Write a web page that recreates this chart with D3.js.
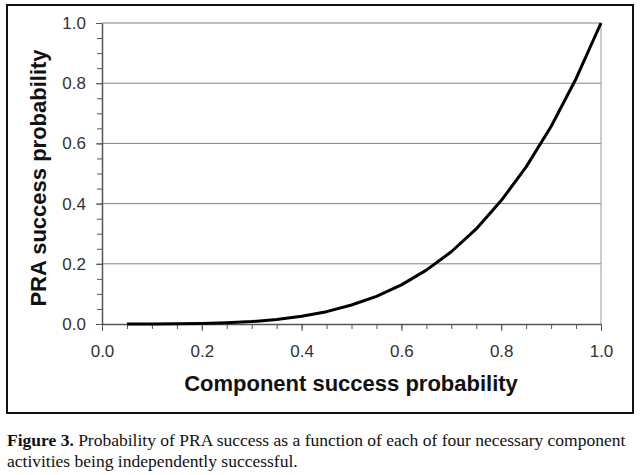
<!DOCTYPE html>
<html>
<head>
<meta charset="utf-8">
<script src="https://cdn.jsdelivr.net/npm/d3@7"></script>
<style>
  body { margin: 0; background: #fff; }
  .tick text { font-family: Arial, "Liberation Sans", sans-serif; font-size: 17px; fill: #333; }
</style>
</head>
<body>
<svg id="chart" width="640" height="475"></svg>
<script>
// component success probability (x) and PRA success probability (y)
const componentProb = [0.05, 0.10, 0.15, 0.20, 0.25, 0.30, 0.35, 0.40, 0.45, 0.50,
                       0.55, 0.60, 0.65, 0.70, 0.75, 0.80, 0.85, 0.90, 0.95, 1.00];
const praProb = [0.000, 0.0001, 0.0005, 0.0016, 0.004, 0.008, 0.015, 0.026, 0.041, 0.063,
                 0.092, 0.130, 0.179, 0.240, 0.316, 0.410, 0.522, 0.656, 0.815, 1.000];
const xTicks = [0.0, 0.2, 0.4, 0.6, 0.8, 1.0];
const yTicks = [0.0, 0.2, 0.4, 0.6, 0.8, 1.0];
const minorTicks = d3.range(0, 21).map(i => i / 20);

const data = componentProb.map((x, i) => ({ x: x, y: praProb[i] }));

const svg = d3.select("#chart");

// outer frame
svg.append("rect")
  .attr("x", 7).attr("y", 5)
  .attr("width", 626).attr("height", 408)
  .attr("fill", "none")
  .attr("stroke", "#111")
  .attr("stroke-width", 2);

const xScale = d3.scaleLinear().domain([0, 1]).range([102, 601]);
const yScale = d3.scaleLinear().domain([0, 1]).range([324, 23]);

// gridlines
svg.append("g")
  .selectAll("line")
  .data(yTicks.filter(d => d > 0))
  .enter()
  .append("line")
  .attr("x1", xScale(0)).attr("x2", xScale(1))
  .attr("y1", d => yScale(d)).attr("y2", d => yScale(d))
  .attr("stroke", "#808080")
  .attr("stroke-width", 1);

// right border of plot area
svg.append("line")
  .attr("x1", xScale(1)).attr("x2", xScale(1))
  .attr("y1", yScale(0)).attr("y2", yScale(1))
  .attr("stroke", "#999")
  .attr("stroke-width", 1);

// minor ticks
svg.append("g")
  .attr("transform", `translate(0,${yScale(0)})`)
  .call(d3.axisBottom(xScale).tickValues(minorTicks).tickSize(5).tickFormat(""))
  .call(g => g.selectAll("line").attr("stroke", "#555"))
  .call(g => g.select(".domain").remove());
svg.append("g")
  .attr("transform", `translate(${xScale(0)},0)`)
  .call(d3.axisLeft(yScale).tickValues(minorTicks).tickSize(5).tickFormat(""))
  .call(g => g.selectAll("line").attr("stroke", "#555"))
  .call(g => g.select(".domain").remove());

// major axes
svg.append("g")
  .attr("transform", `translate(0,${yScale(0)})`)
  .call(d3.axisBottom(xScale).tickValues(xTicks).tickSize(7).tickSizeOuter(0).tickPadding(14)
    .tickFormat(d3.format(".1f")))
  .call(g => g.select(".domain").attr("stroke", "#555").attr("stroke-width", 1.5))
  .call(g => g.selectAll(".tick line").attr("stroke", "#555"));

svg.append("g")
  .attr("transform", `translate(${xScale(0)},0)`)
  .call(d3.axisLeft(yScale).tickValues(yTicks).tickSize(6).tickSizeOuter(0).tickPadding(10)
    .tickFormat(d3.format(".1f")))
  .call(g => g.select(".domain").attr("stroke", "#555").attr("stroke-width", 1.5))
  .call(g => g.selectAll(".tick line").attr("stroke", "#555"));

// curve
svg.append("path")
  .datum(data)
  .attr("fill", "none")
  .attr("stroke", "#000")
  .attr("stroke-width", 3)
  .attr("stroke-linejoin", "round")
  .attr("d", d3.line()
    .x(d => xScale(d.x))
    .y(d => yScale(d.y))
  );

// axis titles
svg.append("text")
  .attr("x", 351).attr("y", 391)
  .attr("text-anchor", "middle")
  .attr("font-family", "Arial, 'Liberation Sans', sans-serif")
  .attr("font-size", 22).attr("font-weight", "bold")
  .attr("fill", "#111")
  .text("Component success probability");

svg.append("text")
  .attr("transform", "translate(46,178) rotate(-90)")
  .attr("text-anchor", "middle")
  .attr("font-family", "Arial, 'Liberation Sans', sans-serif")
  .attr("font-size", 22).attr("font-weight", "bold")
  .attr("fill", "#111")
  .text("PRA success probability");

// caption
const caption = svg.append("text")
  .attr("font-family", "'Liberation Serif', 'Times New Roman', serif")
  .attr("font-size", 17.5)
  .attr("fill", "#111");
const line1 = caption.append("tspan").attr("x", 7).attr("y", 446);
line1.append("tspan").attr("font-weight", "bold").text("Figure 3.");
line1.append("tspan").text(" Probability of PRA success as a function of each of four necessary component");
caption.append("tspan").attr("x", 7).attr("y", 467)
  .text("activities being independently successful.");
</script>
</body>
</html>
